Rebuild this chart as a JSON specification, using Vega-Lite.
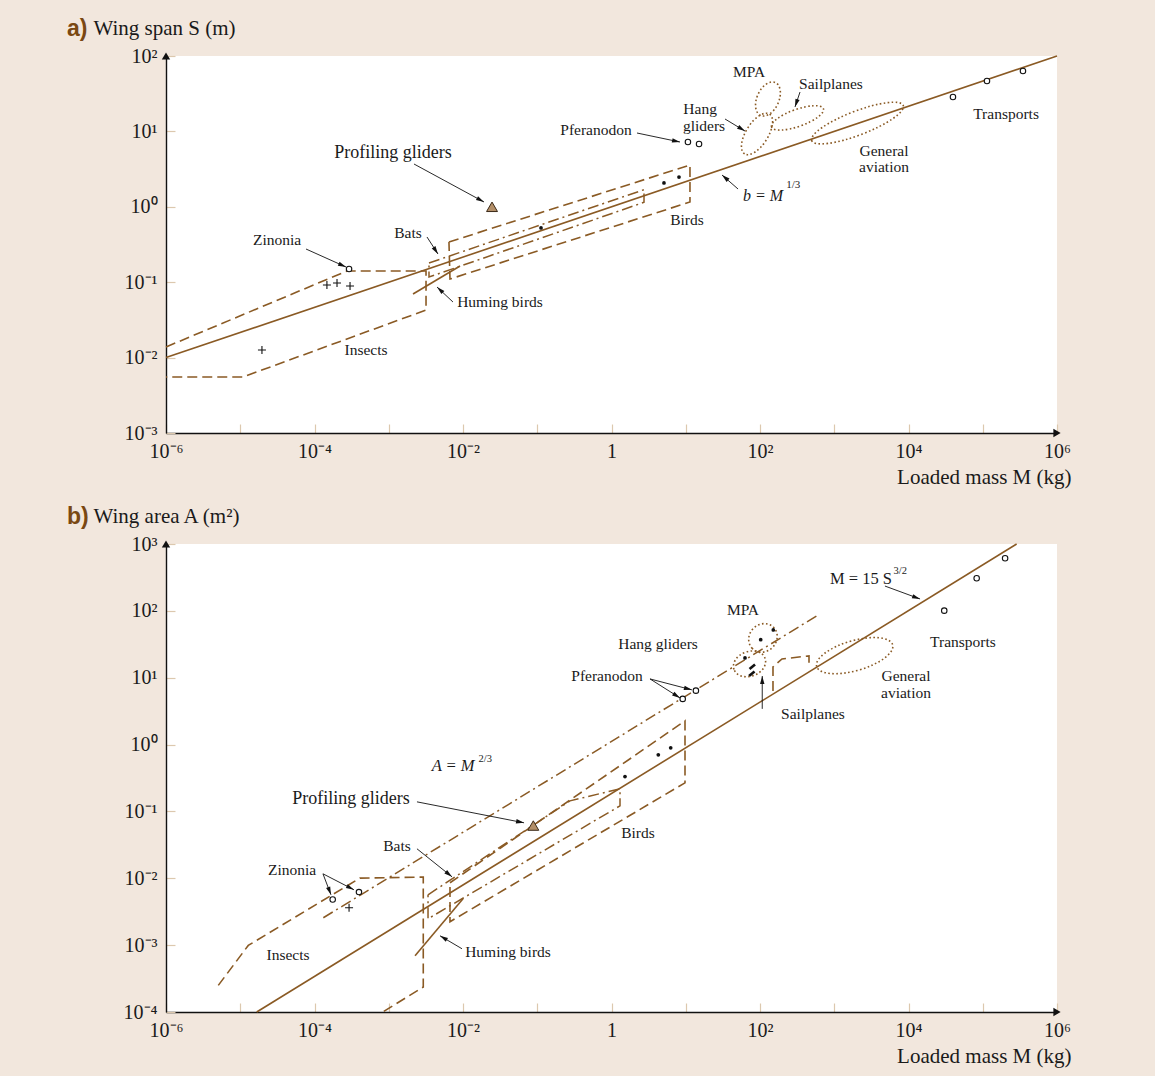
{
  "$schema": "https://vega.github.io/schema/vega-lite/v6.json",
  "padding": {"left": 67, "top": 17, "right": 84, "bottom": 10},
  "autosize": {"type": "pad"},
  "spacing": 111,
  "bounds": "flush",
  "datasets": {
    "a_solid": [
      {"id": "main", "i": 0, "M": 1e-6, "S": 0.01}, {"id": "main", "i": 1, "M": 1e6, "S": 100},
      {"id": "hum", "i": 0, "M": 0.002123, "S": 0.0697}, {"id": "hum", "i": 1, "M": 0.00912, "S": 0.1641}
    ],
    "a_dashed": [
      {"id": "ins", "i": 0, "M": 1e-6, "S": 0.01384}, {"id": "ins", "i": 1, "M": 0.0002742, "S": 0.1409},
      {"id": "ins", "i": 2, "M": 0.003177, "S": 0.1409}, {"id": "ins", "i": 3, "M": 0.003177, "S": 0.04276},
      {"id": "ins", "i": 4, "M": 1.089e-5, "S": 0.005534}, {"id": "ins", "i": 5, "M": 1e-6, "S": 0.005534},
      {"id": "bird", "i": 0, "M": 0.00647, "S": 0.3412}, {"id": "bird", "i": 1, "M": 11.4, "S": 3.581},
      {"id": "bird", "i": 2, "M": 11.4, "S": 1.158}, {"id": "bird", "i": 3, "M": 0.00668, "S": 0.1102},
      {"id": "bird", "i": 4, "M": 0.00647, "S": 0.3412}
    ],
    "a_dashdot": [
      {"id": "bats", "i": 0, "M": 0.003483, "S": 0.1799}, {"id": "bats", "i": 1, "M": 2.74, "S": 1.686},
      {"id": "bats", "i": 2, "M": 2.74, "S": 1.147}, {"id": "bats", "i": 3, "M": 0.003483, "S": 0.1172},
      {"id": "bats", "i": 4, "M": 0.003483, "S": 0.1799}
    ],
    "a_open": [
      {"M": 39700, "S": 28.6}, {"M": 114000, "S": 46.6}, {"M": 348000, "S": 63.3},
      {"M": 10.7, "S": 7.23}, {"M": 15.1, "S": 6.81}, {"M": 0.000292, "S": 0.1496}
    ],
    "a_dots": [{"M": 5.09, "S": 2.07}, {"M": 8.11, "S": 2.48}, {"M": 0.1124, "S": 0.524}],
    "a_cross": [{"M": 0.000147, "S": 0.0918}, {"M": 0.000201, "S": 0.0975}, {"M": 0.000301, "S": 0.0891}, {"M": 1.96e-5, "S": 0.01262}],
    "a_tri": [{"M": 0.0246, "S": 1.0}],
    "a_ell": [{"n": "MPA", "M": 128, "S": 26.9}, {"n": "HG", "M": 91.2, "S": 9.25}, {"n": "SP", "M": 320, "S": 15.1}, {"n": "GA", "M": 2056, "S": 12.9}],
    "a_text": [
      {"t": "Zinonia", "M": 3.13e-5, "S": 0.363}, {"t": "Bats", "M": 0.001815, "S": 0.449},
      {"t": "Huming birds", "M": 0.0315, "S": 0.0546}, {"t": "Insects", "M": 0.000494, "S": 0.01262},
      {"t": "Birds", "M": 10.4, "S": 0.668}, {"t": "Pferanodon", "M": 0.618, "S": 10.44},
      {"t": "Hang", "M": 15.6, "S": 19.8}, {"t": "gliders", "M": 17.6, "S": 11.8},
      {"t": "MPA", "M": 71.1, "S": 61.4}, {"t": "Sailplanes", "M": 903, "S": 42.6},
      {"t": "General", "M": 4677, "S": 5.5}, {"t": "aviation", "M": 4677, "S": 3.37},
      {"t": "Transports", "M": 206000, "S": 17.0}
    ],
    "a_big": [{"t": "Profiling gliders", "M": 0.00114, "S": 5.17}],
    "a_eq": [{"t": "b = M", "M": 59.0, "S": 1.40}],
    "a_sup": [{"t": "1/3", "M": 225, "S": 1.95}],
    "a_arrows": [
      {"M0": 7.69e-5, "S0": 0.2754, "M": 0.0002655, "S": 0.1592},
      {"M0": 0.003273, "S0": 0.3977, "M": 0.0046, "S": 0.2366},
      {"M0": 0.00733, "S0": 0.0546, "M": 0.00447, "S": 0.0863},
      {"M0": 0.002188, "S0": 3.695, "M": 0.01919, "S": 1.158},
      {"M0": 2.205, "S0": 9.52, "M": 8.37, "S": 7.23},
      {"M0": 33.8, "S0": 14.6, "M": 62.8, "S": 10.1},
      {"M0": 346, "S0": 33.3, "M": 296, "S": 21.1},
      {"M0": 50.6, "S0": 1.722, "M": 30.8, "S": 2.64}
    ],
    "a_axup": [{"M": 1e-6, "S": 100}],
    "a_axright": [{"M": 1e6, "S": 0.001}],
    "b_solid": [
      {"id": "main", "i": 0, "M": 1.667e-5, "S": 0.0001}, {"id": "main", "i": 1, "M": 286000, "S": 1000},
      {"id": "hum", "i": 0, "M": 0.00226, "S": 0.000695}, {"id": "hum", "i": 1, "M": 0.01, "S": 0.00494}
    ],
    "b_strokes": [
      {"id": "s1", "i": 0, "M": 72.3, "S": 13.5}, {"id": "s1", "i": 1, "M": 85.7, "S": 15.8},
      {"id": "s2", "i": 0, "M": 71.1, "S": 10.6}, {"id": "s2", "i": 1, "M": 84.4, "S": 12.4}
    ],
    "b_dashed": [
      {"id": "ins", "i": 0, "M": 5.06e-6, "S": 0.00025}, {"id": "ins", "i": 1, "M": 1.282e-5, "S": 0.000991},
      {"id": "ins", "i": 2, "M": 0.00041, "S": 0.01007}, {"id": "ins", "i": 3, "M": 0.002917, "S": 0.01042},
      {"id": "ins", "i": 4, "M": 0.002917, "S": 0.0002366}, {"id": "ins", "i": 5, "M": 0.00083, "S": 0.0001},
      {"id": "bird", "i": 0, "M": 0.00668, "S": 0.00857}, {"id": "bird", "i": 1, "M": 9.77, "S": 2.26},
      {"id": "bird", "i": 2, "M": 9.77, "S": 0.2677}, {"id": "bird", "i": 3, "M": 0.00668, "S": 0.00224},
      {"id": "bird", "i": 4, "M": 0.00668, "S": 0.00857},
      {"id": "sail", "i": 0, "M": 149.6, "S": 6.35}, {"id": "sail", "i": 1, "M": 149.6, "S": 14.5},
      {"id": "sail", "i": 2, "M": 197.7, "S": 19.1}, {"id": "sail", "i": 3, "M": 457, "S": 21.2},
      {"id": "sail", "i": 4, "M": 457, "S": 15.5}
    ],
    "b_dashdot": [
      {"id": "am", "i": 0, "M": 0.0001315, "S": 0.00257}, {"id": "am", "i": 1, "M": 609.5, "S": 86.9},
      {"id": "bats", "i": 0, "M": 0.00338, "S": 0.00566}, {"id": "bats", "i": 1, "M": 0.276, "S": 0.144},
      {"id": "bats", "i": 2, "M": 1.302, "S": 0.2178}, {"id": "bats", "i": 3, "M": 1.302, "S": 0.1213},
      {"id": "bats", "i": 4, "M": 0.00338, "S": 0.00248}, {"id": "bats", "i": 5, "M": 0.00338, "S": 0.00566}
    ],
    "b_open": [
      {"M": 30300, "S": 100.7}, {"M": 82800, "S": 307}, {"M": 200000, "S": 611},
      {"M": 9.1, "S": 4.82}, {"M": 13.7, "S": 6.41},
      {"M": 0.0001758, "S": 0.00482}, {"M": 0.000397, "S": 0.00622}
    ],
    "b_dots": [{"M": 102.2, "S": 37.1}, {"M": 151, "S": 51.8}, {"M": 62.8, "S": 19.8}, {"M": 1.52, "S": 0.3327}, {"M": 4.27, "S": 0.7015}, {"M": 6.27, "S": 0.893}],
    "b_cross": [{"M": 0.000292, "S": 0.00362}],
    "b_tri": [{"M": 0.0885, "S": 0.0615}],
    "b_ell": [{"n": "MPA", "M": 109.6, "S": 39.4}, {"n": "HG", "M": 72.3, "S": 16.1}, {"n": "GA", "M": 1884, "S": 21.4}],
    "b_text": [
      {"t": "Zinonia", "M": 4.98e-5, "S": 0.0134}, {"t": "Bats", "M": 0.00129, "S": 0.0306},
      {"t": "Insects", "M": 4.4e-5, "S": 0.000719}, {"t": "Huming birds", "M": 0.0404, "S": 0.000796},
      {"t": "Birds", "M": 2.27, "S": 0.0479}, {"t": "Pferanodon", "M": 0.87, "S": 10.6},
      {"t": "Hang gliders", "M": 4.23, "S": 32.0}, {"t": "MPA", "M": 59.0, "S": 103},
      {"t": "Sailplanes", "M": 517, "S": 2.88}, {"t": "General", "M": 9247, "S": 10.6},
      {"t": "aviation", "M": 9247, "S": 5.93}, {"t": "Transports", "M": 54200, "S": 34.3}
    ],
    "b_big": [{"t": "Profiling gliders", "M": 0.00031, "S": 0.1542}],
    "b_eq_it": [{"t": "A = M", "M": 0.00378, "S": 0.481}],
    "b_eq_up": [{"t": "M = 15 S", "M": 877, "S": 300}],
    "b_sup": [{"t": "2/3", "M": 0.0162, "S": 0.611}, {"t": "3/2", "M": 6300, "S": 395}],
    "b_arrows": [
      {"M0": 0.00013, "S0": 0.01167, "M": 0.0001667, "S": 0.00566},
      {"M0": 0.00013, "S0": 0.01167, "M": 0.00034, "S": 0.00673},
      {"M0": 0.0024, "S0": 0.0276, "M": 0.00711, "S": 0.01052},
      {"M0": 0.00969, "S0": 0.000883, "M": 0.0049, "S": 0.00138},
      {"M0": 0.0024, "S0": 0.1391, "M": 0.0664, "S": 0.0676},
      {"M0": 3.3, "S0": 9.59, "M": 8.37, "S": 4.99},
      {"M0": 3.3, "S0": 9.59, "M": 12.1, "S": 6.58},
      {"M0": 107.2, "S0": 3.42, "M": 107.2, "S": 10.6},
      {"M0": 4820, "S0": 235, "M": 14300, "S": 150.6}
    ],
    "b_axup": [{"M": 1e-6, "S": 1000}],
    "b_axright": [{"M": 1e6, "S": 0.0001}]
  },
  "vconcat": [
    {
      "width": 891,
      "height": 377,
      "title": {"text": "a)", "dx": -99, "dy": 28},
      "encoding": {
        "x": {"field": "M", "type": "quantitative", "scale": {"type": "log", "domain": [1e-6, 1e6], "nice": false},
          "axis": {"title": "Loaded mass M (kg)", "values": [1e-6, 1e-5, 1e-4, 1e-3, 1e-2, 1e-1, 1, 10, 100, 1000, 1e4, 1e5, 1e6]}},
        "y": {"field": "S", "type": "quantitative", "scale": {"type": "log", "domain": [0.001, 100], "nice": false},
          "axis": {"title": "Wing span S (m)", "values": [0.001, 0.01, 0.1, 1, 10, 100]}}
      },
      "layer": [
        {"data": {"name": "a_dashdot"}, "mark": {"type": "line", "color": "#8a5a24", "strokeWidth": 1.5, "strokeDash": [11, 4, 2, 4]}, "encoding": {"detail": {"field": "id"}, "order": {"field": "i"}}},
        {"data": {"name": "a_dashed"}, "mark": {"type": "line", "color": "#8a5a24", "strokeWidth": 1.6, "strokeDash": [10, 5]}, "encoding": {"detail": {"field": "id"}, "order": {"field": "i"}}},
        {"data": {"name": "a_solid"}, "mark": {"type": "line", "color": "#8a5a24", "strokeWidth": 1.6}, "encoding": {"detail": {"field": "id"}, "order": {"field": "i"}}},
        {"data": {"name": "a_ell"}, "transform": [{"filter": "datum.n == 'MPA'"}], "mark": {"type": "point", "shape": "M-1,0A1,0.61 0 1,1 1,0A1,0.61 0 1,1 -1,0Z", "size": 1296, "angle": 294, "filled": false, "stroke": "#8a5a24", "strokeWidth": 1.6, "strokeDash": [1.6, 2.4], "opacity": 1}},
        {"data": {"name": "a_ell"}, "transform": [{"filter": "datum.n == 'HG'"}], "mark": {"type": "point", "shape": "M-1,0A1,0.47 0 1,1 1,0A1,0.47 0 1,1 -1,0Z", "size": 2209, "angle": 302, "filled": false, "stroke": "#8a5a24", "strokeWidth": 1.6, "strokeDash": [1.6, 2.4], "opacity": 1}},
        {"data": {"name": "a_ell"}, "transform": [{"filter": "datum.n == 'SP'"}], "mark": {"type": "point", "shape": "M-1,0A1,0.31 0 1,1 1,0A1,0.31 0 1,1 -1,0Z", "size": 3025, "angle": 340.5, "filled": false, "stroke": "#8a5a24", "strokeWidth": 1.6, "strokeDash": [1.6, 2.4], "opacity": 1}},
        {"data": {"name": "a_ell"}, "transform": [{"filter": "datum.n == 'GA'"}], "mark": {"type": "point", "shape": "M-1,0A1,0.245 0 1,1 1,0A1,0.245 0 1,1 -1,0Z", "size": 9604, "angle": 339, "filled": false, "stroke": "#8a5a24", "strokeWidth": 1.6, "strokeDash": [1.6, 2.4], "opacity": 1}},
        {"data": {"name": "a_arrows"}, "mark": {"type": "rule", "color": "#111111", "strokeWidth": 0.9}, "encoding": {"x2": {"field": "M0"}, "y2": {"field": "S0"}}},
        {"data": {"name": "a_arrows"}, "transform": [{"calculate": "atan2(-(log(datum.S) - log(datum.S0)) / LN10 * 75.4, (log(datum.M) - log(datum.M0)) / LN10 * 74.25) * 180 / PI", "as": "ang"}],
          "mark": {"type": "point", "shape": "M0,0L-2,-0.55L-2,0.55Z", "size": 64, "filled": true, "color": "#111111", "opacity": 1},
          "encoding": {"angle": {"field": "ang", "type": "quantitative", "scale": null}}},
        {"data": {"name": "a_open"}, "mark": {"type": "point", "shape": "circle", "size": 30, "filled": true, "fill": "#ffffff", "stroke": "#111111", "strokeWidth": 1.1, "opacity": 1}},
        {"data": {"name": "a_dots"}, "mark": {"type": "point", "shape": "circle", "size": 14, "filled": true, "color": "#111111", "opacity": 1}},
        {"data": {"name": "a_cross"}, "mark": {"type": "point", "shape": "M-1,0L1,0M0,-1L0,1", "size": 64, "filled": false, "stroke": "#111111", "strokeWidth": 1.1, "opacity": 1}},
        {"data": {"name": "a_tri"}, "mark": {"type": "point", "shape": "triangle-up", "size": 120, "filled": true, "fill": "#b38f68", "stroke": "#3b2a18", "strokeWidth": 1, "opacity": 1}},
        {"data": {"name": "a_text"}, "mark": {"type": "text", "font": "Liberation Serif", "fontSize": 15.5, "color": "#1a1a1a", "align": "center", "baseline": "middle"}, "encoding": {"text": {"field": "t"}}},
        {"data": {"name": "a_big"}, "mark": {"type": "text", "font": "Liberation Serif", "fontSize": 18, "color": "#1a1a1a", "align": "center", "baseline": "middle"}, "encoding": {"text": {"field": "t"}}},
        {"data": {"name": "a_eq"}, "mark": {"type": "text", "font": "Liberation Serif", "fontSize": 16, "fontStyle": "italic", "color": "#1a1a1a", "align": "left", "baseline": "middle"}, "encoding": {"text": {"field": "t"}}},
        {"data": {"name": "a_sup"}, "mark": {"type": "text", "font": "Liberation Serif", "fontSize": 11, "color": "#1a1a1a", "align": "left", "baseline": "middle"}, "encoding": {"text": {"field": "t"}}},
        {"data": {"name": "a_axup"}, "mark": {"type": "point", "shape": "triangle-up", "size": 70, "filled": true, "color": "#111111", "opacity": 1}},
        {"data": {"name": "a_axright"}, "mark": {"type": "point", "shape": "triangle-right", "size": 70, "filled": true, "color": "#111111", "opacity": 1}}
      ]
    },
    {
      "width": 891,
      "height": 468,
      "title": {"text": "b)", "dx": -99, "dy": 28},
      "encoding": {
        "x": {"field": "M", "type": "quantitative", "scale": {"type": "log", "domain": [1e-6, 1e6], "nice": false},
          "axis": {"title": "Loaded mass M (kg)", "values": [1e-6, 1e-5, 1e-4, 1e-3, 1e-2, 1e-1, 1, 10, 100, 1000, 1e4, 1e5, 1e6]}},
        "y": {"field": "S", "type": "quantitative", "scale": {"type": "log", "domain": [0.0001, 1000], "nice": false},
          "axis": {"title": "Wing area A (m²)", "values": [0.0001, 0.001, 0.01, 0.1, 1, 10, 100, 1000]}}
      },
      "layer": [
        {"data": {"name": "b_dashdot"}, "mark": {"type": "line", "color": "#8a5a24", "strokeWidth": 1.5, "strokeDash": [11, 4, 2, 4]}, "encoding": {"detail": {"field": "id"}, "order": {"field": "i"}}},
        {"data": {"name": "b_dashed"}, "mark": {"type": "line", "color": "#8a5a24", "strokeWidth": 1.6, "strokeDash": [10, 5]}, "encoding": {"detail": {"field": "id"}, "order": {"field": "i"}}},
        {"data": {"name": "b_solid"}, "mark": {"type": "line", "color": "#8a5a24", "strokeWidth": 1.6}, "encoding": {"detail": {"field": "id"}, "order": {"field": "i"}}},
        {"data": {"name": "b_strokes"}, "mark": {"type": "line", "color": "#111111", "strokeWidth": 2.6}, "encoding": {"detail": {"field": "id"}, "order": {"field": "i"}}},
        {"data": {"name": "b_ell"}, "transform": [{"filter": "datum.n == 'MPA'"}], "mark": {"type": "point", "shape": "M-1,0A1,0.9 0 1,1 1,0A1,0.9 0 1,1 -1,0Z", "size": 900, "angle": 315, "filled": false, "stroke": "#8a5a24", "strokeWidth": 1.6, "strokeDash": [1.6, 2.4], "opacity": 1}},
        {"data": {"name": "b_ell"}, "transform": [{"filter": "datum.n == 'HG'"}], "mark": {"type": "point", "shape": "M-1,0A1,0.75 0 1,1 1,0A1,0.75 0 1,1 -1,0Z", "size": 1089, "angle": 340, "filled": false, "stroke": "#8a5a24", "strokeWidth": 1.6, "strokeDash": [1.6, 2.4], "opacity": 1}},
        {"data": {"name": "b_ell"}, "transform": [{"filter": "datum.n == 'GA'"}], "mark": {"type": "point", "shape": "M-1,0A1,0.38 0 1,1 1,0A1,0.38 0 1,1 -1,0Z", "size": 6241, "angle": 344, "filled": false, "stroke": "#8a5a24", "strokeWidth": 1.6, "strokeDash": [1.6, 2.4], "opacity": 1}},
        {"data": {"name": "b_arrows"}, "mark": {"type": "rule", "color": "#111111", "strokeWidth": 0.9}, "encoding": {"x2": {"field": "M0"}, "y2": {"field": "S0"}}},
        {"data": {"name": "b_arrows"}, "transform": [{"calculate": "atan2(-(log(datum.S) - log(datum.S0)) / LN10 * 66.9, (log(datum.M) - log(datum.M0)) / LN10 * 74.25) * 180 / PI", "as": "ang"}],
          "mark": {"type": "point", "shape": "M0,0L-2,-0.55L-2,0.55Z", "size": 64, "filled": true, "color": "#111111", "opacity": 1},
          "encoding": {"angle": {"field": "ang", "type": "quantitative", "scale": null}}},
        {"data": {"name": "b_open"}, "mark": {"type": "point", "shape": "circle", "size": 30, "filled": true, "fill": "#ffffff", "stroke": "#111111", "strokeWidth": 1.1, "opacity": 1}},
        {"data": {"name": "b_dots"}, "mark": {"type": "point", "shape": "circle", "size": 14, "filled": true, "color": "#111111", "opacity": 1}},
        {"data": {"name": "b_cross"}, "mark": {"type": "point", "shape": "M-1,0L1,0M0,-1L0,1", "size": 64, "filled": false, "stroke": "#111111", "strokeWidth": 1.1, "opacity": 1}},
        {"data": {"name": "b_tri"}, "mark": {"type": "point", "shape": "triangle-up", "size": 120, "filled": true, "fill": "#b38f68", "stroke": "#3b2a18", "strokeWidth": 1, "opacity": 1}},
        {"data": {"name": "b_text"}, "mark": {"type": "text", "font": "Liberation Serif", "fontSize": 15.5, "color": "#1a1a1a", "align": "center", "baseline": "middle"}, "encoding": {"text": {"field": "t"}}},
        {"data": {"name": "b_big"}, "mark": {"type": "text", "font": "Liberation Serif", "fontSize": 18, "color": "#1a1a1a", "align": "center", "baseline": "middle"}, "encoding": {"text": {"field": "t"}}},
        {"data": {"name": "b_eq_it"}, "mark": {"type": "text", "font": "Liberation Serif", "fontSize": 16.5, "fontStyle": "italic", "color": "#1a1a1a", "align": "left", "baseline": "middle"}, "encoding": {"text": {"field": "t"}}},
        {"data": {"name": "b_eq_up"}, "mark": {"type": "text", "font": "Liberation Serif", "fontSize": 16.5, "color": "#1a1a1a", "align": "left", "baseline": "middle"}, "encoding": {"text": {"field": "t"}}},
        {"data": {"name": "b_sup"}, "mark": {"type": "text", "font": "Liberation Serif", "fontSize": 10.5, "color": "#1a1a1a", "align": "left", "baseline": "middle"}, "encoding": {"text": {"field": "t"}}},
        {"data": {"name": "b_axup"}, "mark": {"type": "point", "shape": "triangle-up", "size": 70, "filled": true, "color": "#111111", "opacity": 1}},
        {"data": {"name": "b_axright"}, "mark": {"type": "point", "shape": "triangle-right", "size": 70, "filled": true, "color": "#111111", "opacity": 1}}
      ]
    }
  ],
  "config": {
    "background": "#f2e7dd",
    "view": {"fill": "#ffffff", "stroke": null},
    "title": {"anchor": "start", "frame": "group", "offset": 0, "baseline": "middle", "font": "Liberation Sans", "fontSize": 23, "fontWeight": "bold", "color": "#7a4812"},
    "axis": {
      "grid": false, "domainColor": "#111111", "domainWidth": 1.4, "tickColor": "#dcc8ae", "tickSize": -9, "tickWidth": 1.2,
      "labelFont": "Liberation Serif", "labelFontSize": 20, "labelColor": "#1a1a1a", "labelOverlap": false, "labelFlush": false, "labelBound": false,
      "titleFont": "Liberation Serif", "titleFontSize": 21, "titleFontWeight": "normal", "titleColor": "#1a1a1a"
    },
    "axisX": {
      "labelPadding": 17,
      "labelExpr": "abs(round(log(datum.value) / LN10)) % 2 == 1 ? '' : (round(log(datum.value) / LN10) == 0 ? '1' : '10' + replace(replace(replace(replace(replace(replace(replace(replace(toString(round(log(datum.value) / LN10)), '-', '⁻'), '0', '⁰'), '1', '¹'), '2', '²'), '3', '³'), '4', '⁴'), '5', '⁵'), '6', '⁶'))",
      "titleX": 905, "titleY": 44, "titleAlign": "right", "titleAnchor": null, "titleBaseline": "middle"
    },
    "axisY": {
      "labelPadding": 18,
      "labelExpr": "'10' + replace(replace(replace(replace(replace(replace(replace(replace(toString(round(log(datum.value) / LN10)), '-', '⁻'), '0', '⁰'), '1', '¹'), '2', '²'), '3', '³'), '4', '⁴'), '5', '⁵'), '6', '⁶')",
      "titleAngle": 0, "titleX": -73, "titleY": -28, "titleAlign": "left", "titleAnchor": null, "titleBaseline": "middle"
    }
  }
}
